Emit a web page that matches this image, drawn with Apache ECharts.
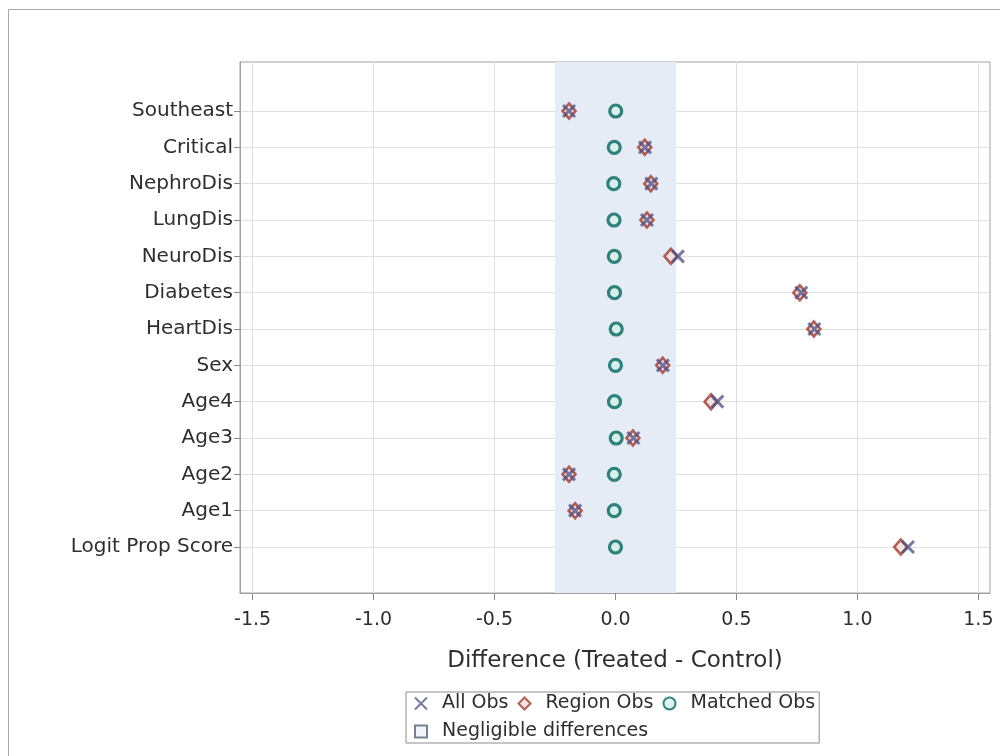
<!DOCTYPE html>
<html><head><meta charset="utf-8">
<script src="https://cdn.jsdelivr.net/npm/echarts@6/dist/echarts.min.js"></script>
<style>html,body{margin:0;padding:0;background:#fff}#c{width:1000px;height:756px}</style>
</head><body><div id="c"></div>
<script>
// bottom to top
const categories = ['Logit Prop Score','Age1','Age2','Age3','Age4','Sex','HeartDis','Diabetes','NeuroDis','LungDis','NephroDis','Critical','Southeast'];
const allObs    = [1.209, -0.167, -0.192, 0.074, 0.421, 0.196, 0.822, 0.768, 0.258, 0.130, 0.148, 0.122, -0.192];
const regionObs = [1.179, -0.167, -0.192, 0.072, 0.395, 0.195, 0.820, 0.762, 0.229, 0.130, 0.146, 0.121, -0.192];
const matchedObs= [0.000, -0.005, -0.005, 0.003, -0.004, 0.000, 0.003, -0.004, -0.005, -0.006, -0.007, -0.005, 0.001];
const xTicks = [-1.5, -1.0, -0.5, 0.0, 0.5, 1.0, 1.5];
const negligible = [-0.25, 0.25];

const chart = echarts.init(document.getElementById('c'), null, {renderer: 'canvas'});
const yIdx = categories.map((_, i) => i);
const pairs = vals => vals.map((v, i) => [v, i]);
const font = 'DejaVu Sans';
const txt = '#2e2e2e';
const frame = '#a0a0a0';
const tick = '#8a8a8a';
const grid = '#e0e0e0';

const option = {
  animation: false,
  textStyle: {fontFamily: font},
  graphic: [{
    type: 'rect', silent: true, z: -10,
    shape: {x: 8.5, y: 9.5, width: 1000, height: 760},
    style: {fill: 'none', stroke: '#a8a8a8', lineWidth: 1}
  }],
  grid: {left: 240, right: 10, top: 62, bottom: 163, show: true, borderColor: frame, borderWidth: 1},
  xAxis: {
    type: 'value', min: -1.552, max: 1.548,
    name: 'Difference (Treated - Control)', nameLocation: 'middle', nameGap: 57,
    nameTextStyle: {fontSize: 23, color: txt, fontFamily: font},
    axisLine: {show: true, onZero: false, lineStyle: {color: frame}},
    axisTick: {show: true, length: 7, customValues: xTicks, lineStyle: {color: tick}},
    axisLabel: {customValues: xTicks, fontSize: 19, color: txt, margin: 18, formatter: v => v.toFixed(1)},
    splitLine: {show: true, lineStyle: {color: grid}}
  },
  yAxis: {
    type: 'value', min: -1.266, max: 13.349,
    axisLine: {show: true, onZero: false, lineStyle: {color: frame}},
    axisTick: {show: true, length: 6, customValues: yIdx, lineStyle: {color: tick}},
    axisLabel: {customValues: yIdx, formatter: v => categories[Math.round(v)], fontSize: 20, color: txt, margin: 7},
    splitLine: {show: true, lineStyle: {color: grid}}
  },
  legend: {
    left: 406, top: 692, width: 420,
    padding: [2, 4, 2, 8], itemGap: 9, itemWidth: 12, itemHeight: 12,
    borderColor: '#8c8c8c', borderWidth: 1,
    textStyle: {fontSize: 19, color: txt, fontFamily: font, padding: [0, 0, 0, 10]},
    data: ['All Obs', 'Region Obs', 'Matched Obs', 'Negligible differences']
  },
  series: [
    {
      name: 'Negligible differences', type: 'scatter', data: [],
      symbol: 'rect', symbolSize: 12,
      itemStyle: {color: '#eef1f8', borderColor: '#56617a', borderWidth: 1.5},
      markArea: {
        silent: true,
        itemStyle: {color: '#e6ecf6'},
        data: [[{xAxis: negligible[0]}, {xAxis: negligible[1]}]]
      },
      z: 1
    },
    {
      name: 'Region Obs', type: 'scatter', data: pairs(regionObs),
      symbol: 'diamond', symbolSize: [13, 15],
      itemStyle: {color: '#f3dcda', borderColor: '#A23A2E', borderWidth: 2.6},
      z: 3
    },
    {
      name: 'All Obs', type: 'scatter', data: pairs(allObs),
      symbol: 'path://M0,0L10,10M10,0L0,10', symbolSize: 12,
      itemStyle: {color: 'rgba(0,0,0,0)', borderColor: '#4a4f86', borderWidth: 3, opacity: 0.75},
      z: 4
    },
    {
      name: 'Matched Obs', type: 'scatter', data: pairs(matchedObs),
      symbol: 'circle', symbolSize: 12,
      itemStyle: {color: '#d6f0ea', borderColor: '#01665E', borderWidth: 3.2},
      z: 5
    }
  ]
};
chart.setOption(option);
</script>
</body></html>
